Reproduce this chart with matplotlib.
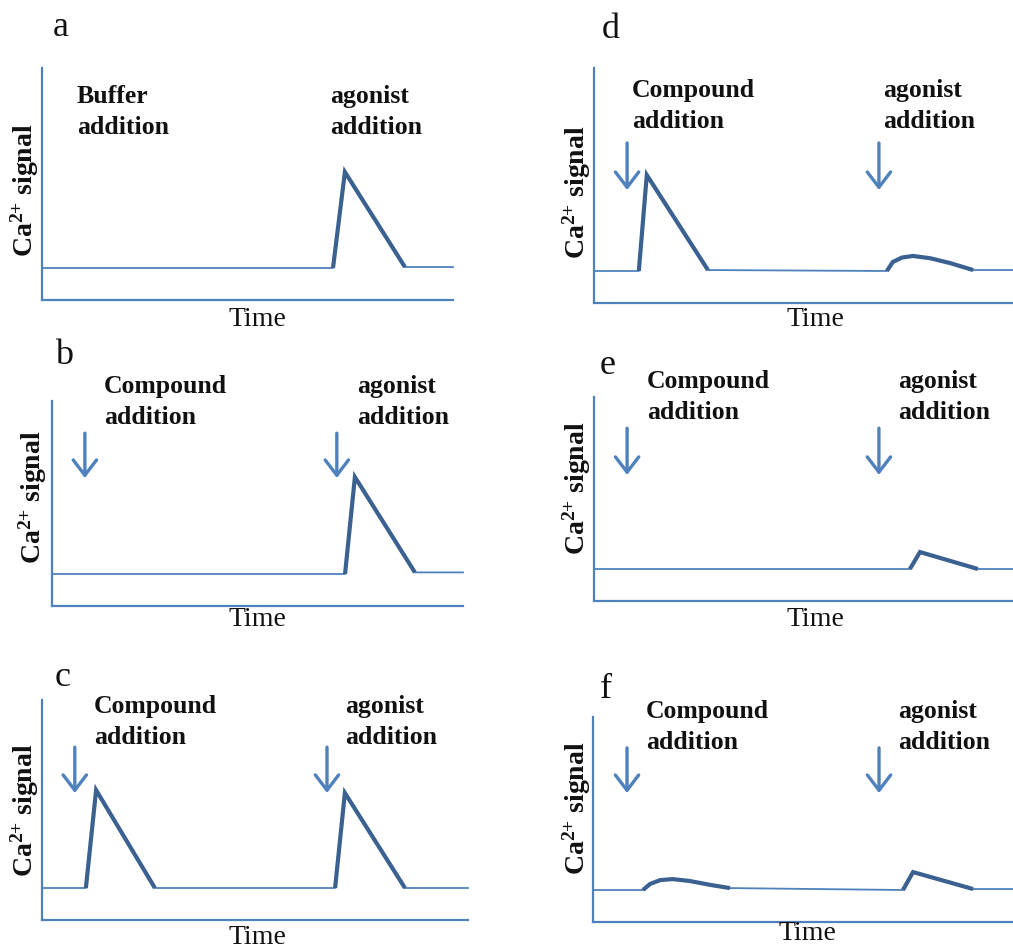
import numpy as np
import matplotlib.pyplot as plt

plt.rcParams['font.family'] = ['Liberation Serif', 'DejaVu Serif']
plt.rcParams['mathtext.fontset'] = 'custom'
plt.rcParams['mathtext.rm'] = 'Liberation Serif:bold'
plt.rcParams['mathtext.bf'] = 'Liberation Serif:bold'
plt.rcParams['mathtext.it'] = 'Liberation Serif:italic:bold'

W, H = 1013, 951
PX_PER_UNIT = 32.0   # vertical pixels per signal unit

# time runs 0..100 along each panel, signal baseline = 1
panel_names = ['a', 'b', 'c', 'd', 'e', 'f']
left_labels = ['Buffer\naddition', 'Compound\naddition', 'Compound\naddition',
               'Compound\naddition', 'Compound\naddition', 'Compound\naddition']
right_label = 'agonist\naddition'
baseline = 1.0

# response segments (time, signal)
a_resp = [([70.8, 73.7, 88.3], [1.0, 4.0, 1.03])]
b_resp = [([71.3, 73.7, 88.3], [1.0, 4.03, 1.05])]
c_resp = [([10.3, 12.7, 26.5], [1.0, 4.06, 1.0]),
          ([68.8, 71.1, 85.2], [1.0, 3.97, 1.0])]
d_resp = [([10.7, 12.6, 27.2], [1.0, 4.0, 1.03]),
          ([69.9, 71.3, 73.5, 76.1, 80.2, 84.9, 90.5], [1.0, 1.28, 1.42, 1.47, 1.40, 1.25, 1.03])]
e_resp = [([75.4, 77.8, 91.6], [1.0, 1.53, 1.0])]
f_resp = [([11.9, 13.6, 16.0, 19.0, 23.1, 27.9, 32.6], [1.0, 1.19, 1.31, 1.34, 1.28, 1.16, 1.06]),
          ([73.8, 76.2, 90.5], [1.0, 1.56, 1.03])]

# addition arrows (time, signal at tail, signal at tip)
a_arrows = []
b_arrows = [(8.0, 5.4, 4.0), (69.3, 5.4, 4.0)]
c_arrows = [(7.7, 5.4, 3.97), (66.9, 5.4, 3.97)]
d_arrows = [(7.9, 5.0, 3.53), (68.0, 5.0, 3.53)]
e_arrows = [(7.9, 5.4, 3.94), (68.0, 5.4, 3.94)]
f_arrows = [(8.1, 5.44, 4.03), (68.1, 5.44, 4.03)]

responses = [a_resp, b_resp, c_resp, d_resp, e_resp, f_resp]
arrows = [a_arrows, b_arrows, c_arrows, d_arrows, e_arrows, f_arrows]

# layout in pixels: axes box (left, top, right, bottom) and text anchors
boxes = [(42, 68, 453, 300), (52, 401, 463, 606), (42, 700, 468, 920),
         (594, 68, 1013, 303), (594, 397, 1013, 601), (593, 717, 1013, 922)]
letter_pos = [(53, 27), (55, 355), (55, 678), (602, 30), (600, 365), (600, 690)]
left_txt = [(77, 112), (104, 402), (94, 722), (632, 106), (647, 397), (646, 727)]
right_txt = [(330, 112), (357, 402), (345, 722), (883, 106), (898, 397), (898, 727)]
time_pos = [(257, 320), (257, 620), (257, 938), (815, 320), (815, 620), (807, 933)]
ylab_pos = [(25, 190), (33, 497), (25, 810), (577, 192), (577, 488), (577, 808)]

AX_COL = '#4f81bd'
LINE_COL = '#3a6190'
TXT_COL = '#111111'

fig = plt.figure(figsize=(W / 100, H / 100), dpi=100)

def fx(px):
    return px / W

def fy(py):
    return 1 - py / H

for i in range(6):
    l, t, r, b = boxes[i]
    ax = fig.add_axes([fx(l), fy(b), (r - l) / W, (b - t) / H])
    ax.set_xlim(0, 100)
    ax.set_ylim(0, (b - t) / PX_PER_UNIT)
    for s in ['top', 'right']:
        ax.spines[s].set_visible(False)
    for s in ['left', 'bottom']:
        ax.spines[s].set_color(AX_COL)
        ax.spines[s].set_linewidth(1.6)
    ax.set_xticks([])
    ax.set_yticks([])
    ax.patch.set_alpha(0)

    # thin trace: baseline plus responses
    tt = [0.0]
    yy = [baseline]
    for rt, ry in responses[i]:
        tt += rt
        yy += ry
    tt.append(100.0)
    yy.append(yy[-1])
    ax.plot(tt, yy, color=AX_COL, lw=1.3, clip_on=False)
    # thick response segments
    for rt, ry in responses[i]:
        ax.plot(rt, ry, color=LINE_COL, lw=3.0, solid_capstyle='butt',
                solid_joinstyle='miter', clip_on=False)

    for at, y0, y1 in arrows[i]:
        ax.annotate('', xy=(at, y1), xytext=(at, y0),
                    arrowprops=dict(arrowstyle='->,head_length=0.55,head_width=0.42',
                                    color=AX_COL, lw=2.4, mutation_scale=20,
                                    shrinkA=0, shrinkB=0))

    fig.text(fx(letter_pos[i][0]), fy(letter_pos[i][1]), panel_names[i],
             fontsize=26, ha='left', va='center', color=TXT_COL)
    fig.text(fx(left_txt[i][0]), fy(left_txt[i][1]), left_labels[i],
             fontsize=18.5, fontweight='bold', ha='left', va='center',
             linespacing=1.4, color=TXT_COL)
    fig.text(fx(right_txt[i][0]), fy(right_txt[i][1]), right_label,
             fontsize=18.5, fontweight='bold', ha='left', va='center',
             linespacing=1.4, color=TXT_COL)
    fig.text(fx(time_pos[i][0]), fy(time_pos[i][1]), 'Time',
             fontsize=20, ha='center', va='center', color=TXT_COL)
    fig.text(fx(ylab_pos[i][0]), fy(ylab_pos[i][1]), r'Ca$^{2{+}}$ signal',
             fontsize=20, fontweight='bold', rotation=90, ha='center', va='center',
             color=TXT_COL)

fig.savefig('out.png', dpi=100)
